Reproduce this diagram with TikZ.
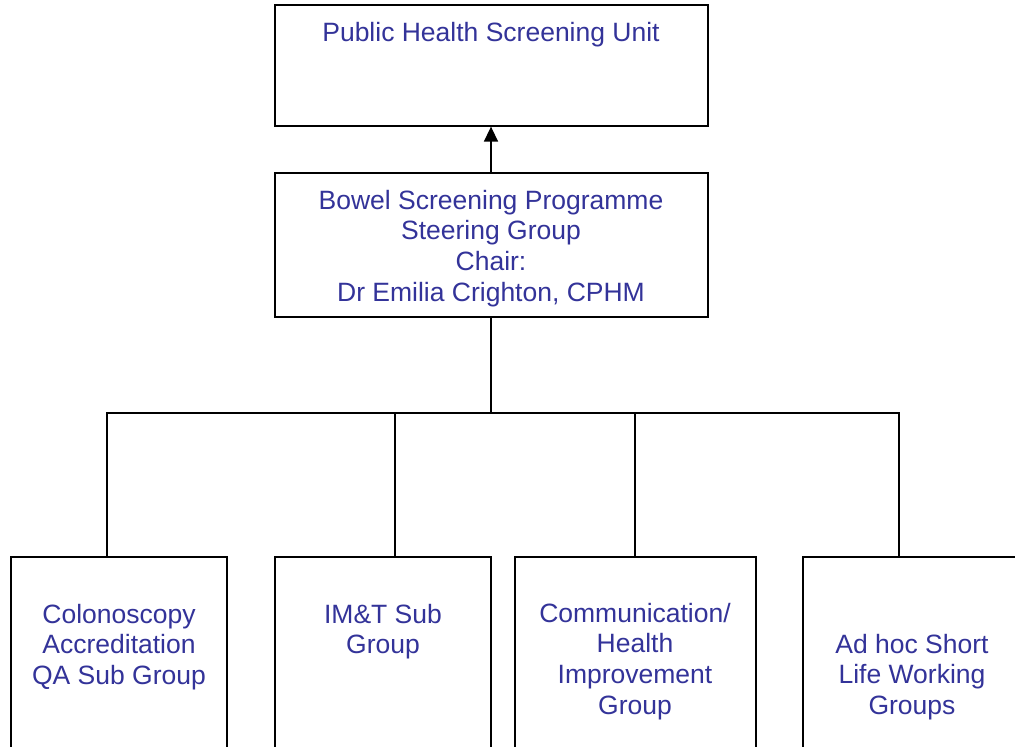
\documentclass[tikz,border=0pt]{standalone}
\usepackage{fontspec}
\setmainfont{Liberation Sans}
\usetikzlibrary{arrows.meta}
\definecolor{txtblue}{HTML}{333399}
\tikzset{
  box/.style={draw=black, line width=1.3pt, rectangle, inner sep=0pt},
  lbl/.style={anchor=north, inner sep=0pt, align=center, text=txtblue,
    font=\fontsize{26.5}{30.7}\selectfont},
  conn/.style={draw=black, line width=1.5pt},
}
\newcommand{\topstrut}{\rule{0pt}{22pt}}
\begin{document}
\begin{tikzpicture}[x=1pt,y=-1pt]
\useasboundingbox (0,0) rectangle (1015,747);
\fill[white] (0,0) rectangle (1015,747);
\clip (0,0) rectangle (1015,747);
% boxes
\node[box, minimum width=433pt, minimum height=121pt] (top) at (491.5,65.5) {};
\node[box, minimum width=433pt, minimum height=144pt] (steer) at (491.5,245) {};
\node[box, minimum width=216pt, minimum height=243pt] (b1) at (119,678.5) {};
\node[box, minimum width=216pt, minimum height=243pt] (b2) at (383,678.5) {};
\node[box, minimum width=241pt, minimum height=243pt] (b3) at (635.5,678.5) {};
\node[box, minimum width=227pt, minimum height=243pt] (b4) at (916.5,678.5) {};
% texts
\node[lbl] (ttop) at (491,19) {\topstrut Public Health Screening Unit};
\node[lbl] (tsteer) at (491,187) {\topstrut Bowel Screening Programme\\Steering Group\\Chair:\\Dr Emilia Crighton, CPHM};
\node[lbl] (t1) at (119,601) {\topstrut Colonoscopy\\Accreditation\\QA Sub Group};
\node[lbl] (t2) at (383,601) {\topstrut IM\&T Sub\\Group};
\node[lbl] (t3) at (635,600) {\topstrut Communication/\\Health\\Improvement\\Group};
\node[lbl] (t4) at (912,631) {\topstrut Ad hoc Short\\Life Working\\Groups};
% connectors
\coordinate (bus) at (491,413);
\coordinate (c1) at (107,557);
\coordinate (c2) at (395,557);
\coordinate (c3) at (635,557);
\coordinate (c4) at (899,557);
\draw[conn, -{Triangle[length=15pt,width=14pt]}] (steer.north -| bus) -- (top.south -| bus);
\draw[conn] (steer.south -| bus) -- (bus);
\draw[conn] (c1) |- (bus) -| (c4);
\draw[conn] (c2) -- (c2 |- bus);
\draw[conn] (c3) -- (c3 |- bus);
\end{tikzpicture}
\end{document}
